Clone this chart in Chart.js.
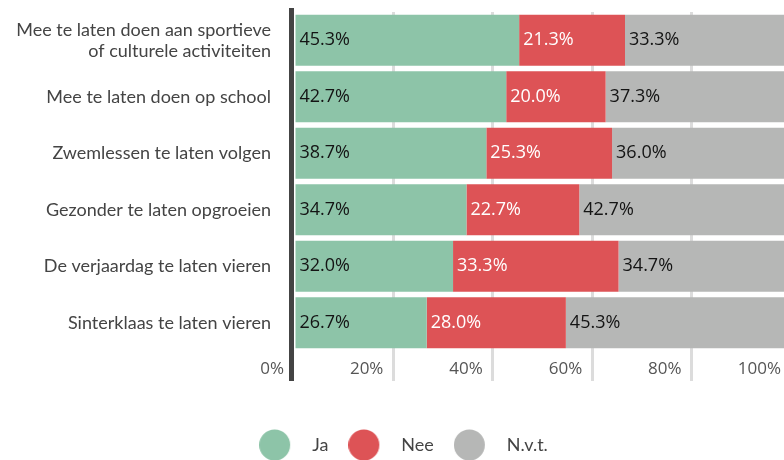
<!DOCTYPE html>
<html>
<head>
<meta charset="utf-8">
<script src="https://cdn.jsdelivr.net/npm/chart.js@4/dist/chart.umd.min.js"></script>
<style>
  html, body { margin: 0; padding: 0; background: #fff; }
  #wrap { width: 784px; height: 460px; overflow: hidden; }
</style>
</head>
<body>
<div id="wrap"><canvas id="chart" width="812" height="460"></canvas></div>
<script>
// data
const categories = [
  ['Mee te laten doen aan sportieve', 'of culturele activiteiten'],
  'Mee te laten doen op school',
  'Zwemlessen te laten volgen',
  'Gezonder te laten opgroeien',
  'De verjaardag te laten vieren',
  'Sinterklaas te laten vieren'
];
const seriesNames = ['Ja', 'Nee', 'N.v.t.'];
const jaValues = [45.3, 42.7, 38.7, 34.7, 32.0, 26.7];
const neeValues = [21.3, 20.0, 25.3, 22.7, 33.3, 28.0];
const nvtValues = [33.3, 37.3, 36.0, 42.7, 34.7, 45.3];
const xTicks = [0, 20, 40, 60, 80, 100];

const colors = ['#8dc4a8', '#dd5356', '#b6b7b6'];
const labelColors = ['#141414', '#ffffff', '#141414'];

// legenda-rondje met wat ruimte rechts ervan
function legendDot(color) {
  const c = document.createElement('canvas');
  c.width = 44;
  c.height = 32;
  const g = c.getContext('2d');
  g.fillStyle = color;
  g.beginPath();
  g.arc(15.5, 16, 15.5, 0, Math.PI * 2);
  g.fill();
  return c;
}

// waarden in de balken
const barLabels = {
  id: 'barLabels',
  afterDatasetsDraw(chart) {
    const ctx = chart.ctx;
    ctx.save();
    ctx.font = '18px "Open Sans"';
    ctx.textAlign = 'left';
    ctx.textBaseline = 'middle';
    chart.data.datasets.forEach((ds, i) => {
      chart.getDatasetMeta(i).data.forEach((bar, j) => {
        ctx.fillStyle = labelColors[i];
        ctx.fillText(ds.data[j].toFixed(1) + '%', Math.min(bar.base, bar.x) + 4, bar.y);
      });
    });
    ctx.restore();
  }
};

// donkere verticale as
const axisLine = {
  id: 'axisLine',
  afterDraw(chart) {
    const { ctx, chartArea } = chart;
    ctx.save();
    ctx.strokeStyle = '#444444';
    ctx.lineWidth = 5;
    ctx.beginPath();
    ctx.moveTo(chartArea.left - 2.5, chartArea.top - 4);
    ctx.lineTo(chartArea.left - 2.5, chartArea.bottom + 30);
    ctx.stroke();
    ctx.restore();
  }
};

new Chart(document.getElementById('chart'), {
  type: 'bar',
  data: {
    labels: categories,
    datasets: [
      { label: seriesNames[0], data: jaValues, backgroundColor: colors[0], pointStyle: legendDot(colors[0]) },
      { label: seriesNames[1], data: neeValues, backgroundColor: colors[1], pointStyle: legendDot(colors[1]) },
      { label: seriesNames[2], data: nvtValues, backgroundColor: colors[2], pointStyle: legendDot(colors[2]) }
    ]
  },
  options: {
    indexAxis: 'y',
    responsive: false,
    animation: false,
    datasets: { bar: { categoryPercentage: 0.9, barPercentage: 1, borderWidth: 0 } },
    layout: { padding: { top: 12, right: 21, left: 16, bottom: -4 } },
    plugins: {
      tooltip: { enabled: false },
      legend: {
        position: 'bottom',
        labels: {
          usePointStyle: true,
          pointStyleWidth: 44,
          padding: 20,
          color: '#444',
          font: { family: 'Lato', size: 18 }
        }
      }
    },
    scales: {
      x: {
        stacked: true,
        min: 0,
        max: 100,
        afterBuildTicks: (scale) => { scale.ticks = xTicks.map(v => ({ value: v })); },
        border: { display: false },
        grid: {
          color: (c) => (c.tick && c.tick.value === 0) ? 'rgba(0,0,0,0)' : '#dcdcdc',
          lineWidth: 3,
          drawTicks: true,
          tickLength: 30
        },
        ticks: {
          align: 'end',
          labelOffset: -10,
          padding: -22,
          maxRotation: 0,
          autoSkip: false,
          color: '#555',
          font: { family: 'Open Sans', size: 17 },
          callback: (v) => v + '%'
        },
        afterFit: (scale) => { scale.height = 65; }
      },
      y: {
        stacked: true,
        border: { display: false },
        grid: { display: false, drawTicks: false },
        ticks: {
          padding: 23,
          color: '#444',
          font: { family: 'Lato', size: 18, lineHeight: 1.17 }
        },
        afterFit: (scale) => {
          scale.width = 278;
          scale.paddingTop = 0;
          scale.paddingBottom = 0;
        }
      }
    }
  },
  plugins: [barLabels, axisLine]
});
</script>
</body>
</html>
